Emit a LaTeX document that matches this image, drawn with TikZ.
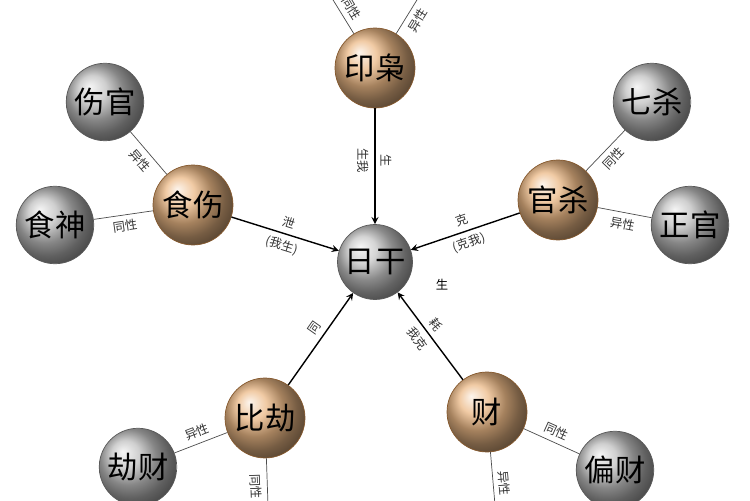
\documentclass[tikz,border=0pt]{standalone}
\usepackage{fontspec}
\setmainfont{Noto Sans CJK SC}
\usetikzlibrary{positioning}
\tikzset{
  main/.style={circle,draw=gray!70!black,ball color=gray!45,minimum size=1.5cm,inner sep=0pt,font=\LARGE},
  god/.style={circle,draw=brown!70!black,ball color=orange!45!brown!55,minimum size=1.6cm,inner sep=0pt,font=\LARGE},
  leaf/.style={circle,draw=gray!70!black,ball color=gray!50,minimum size=1.55cm,inner sep=0pt,font=\LARGE},
  tag/.style={font=\scriptsize,sloped,inner sep=3pt,text=gray!40!black},
}
\begin{document}
\begin{tikzpicture}[x=0.02cm,y=-0.02cm]
  \useasboundingbox (0,0) rectangle (750,500);
  \node[main] (rg) at (375,262) {日干};
  \node[god] (yx) at (375,68) {印枭};
  \node[god] (ss) at (193,205) {食伤};
  \node[god] (gs) at (558,200) {官杀};
  \node[god] (bj) at (265,418) {比劫};
  \node[god] (cai) at (487,412) {财};
  \node[leaf] (sg) at (105,102) {伤官};
  \node[leaf] (sh) at (55,225) {食神};
  \node[leaf] (qs) at (652,102) {七杀};
  \node[leaf] (zg) at (690,225) {正官};
  \node[leaf] (jc) at (138,467) {劫财};
  \node[leaf] (pc) at (615,470) {偏财};
  \coordinate (t1) at (330,-5);
  \coordinate (t2) at (420,-5);
  \coordinate (b1) at (268,505);
  \coordinate (b2) at (495,505);

  \draw[gray!60!black] (yx) -- node[tag,above]{同性} (t1);
  \draw[gray!60!black] (yx) -- node[tag,below]{异性} (t2);
  \draw[gray!60!black] (ss) -- node[tag,below]{异性} (sg);
  \draw[gray!60!black] (ss) -- node[tag,below]{同性} (sh);
  \draw[gray!60!black] (gs) -- node[tag,below]{同性} (qs);
  \draw[gray!60!black] (gs) -- node[tag,below]{异性} (zg);
  \draw[gray!60!black] (bj) -- node[tag,above]{异性} (jc);
  \draw[gray!60!black] (bj) -- node[tag,below,pos=0.6]{同性} (b1);
  \draw[gray!60!black] (cai) -- node[tag,above]{同性} (pc);
  \draw[gray!60!black] (cai) -- node[tag,above,pos=0.6]{异性} (b2);

  \draw[-stealth,thick] (yx) -- node[tag,above,pos=0.45]{生}
    node[tag,below,pos=0.45]{生我} (rg);
  \draw[-stealth,thick] (ss) -- node[tag,above]{泄} node[tag,below]{(我生)} (rg);
  \draw[-stealth,thick] (gs) -- node[tag,above]{克} node[tag,below]{(克我)} (rg);
  \draw[-stealth,thick] (bj) -- node[tag,above,pos=0.55]{同} (rg);
  \draw[-stealth,thick] (cai) -- node[tag,above,pos=0.55]{耗}
    node[tag,below,pos=0.55]{我克} (rg);
  \node[font=\scriptsize] (sheng) at (442,285) {生};
\end{tikzpicture}
\end{document}
